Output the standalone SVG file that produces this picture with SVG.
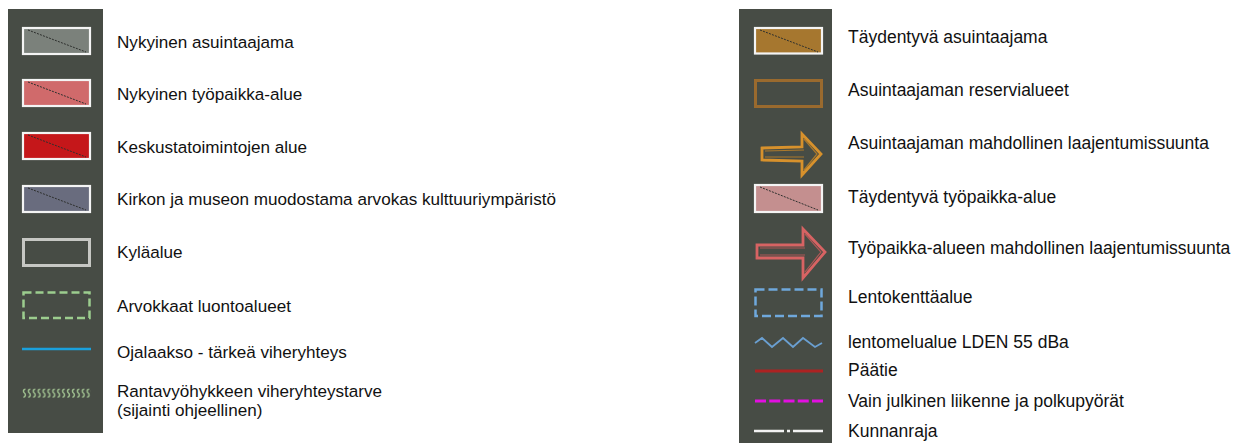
<svg xmlns="http://www.w3.org/2000/svg" width="1238" height="445" viewBox="0 0 1238 445">
<style>
.panel{fill:#474c45}
.lbl{font-family:"Liberation Sans",Arial,sans-serif;font-size:17.1px;fill:#111}
.rl{font-size:17.5px}
.box{stroke:#f4f4f4;stroke-width:2.2}
.diag{stroke:#2e302e;stroke-width:1;stroke-dasharray:2 1.2;fill:none}
</style>
<defs>
<pattern id="sq" x="22" y="388" width="4.9" height="11" patternUnits="userSpaceOnUse">
<path d="M3.4,1.2 C1,1.2 1,4 2.4,5 C3.8,6 3.8,9.2 1.4,9.2" fill="none" stroke="#9fc08f" stroke-width="1.5"/>
</pattern>
</defs>
<rect width="1238" height="445" fill="#ffffff"/>
<rect class="panel" x="8" y="9" width="95" height="424"/>
<rect class="panel" x="739" y="9" width="93" height="434"/>

<g id="nykyinen-asuintaajama">
<rect class="box" x="23" y="28" width="67" height="26" fill="#7b817b"/>
<line class="diag" x1="28" y1="30" x2="86" y2="52"/>
<text class="lbl" x="117" y="48">Nykyinen asuintaajama</text>
</g>
<g id="nykyinen-tyopaikka">
<rect class="box" x="23" y="80" width="67" height="26" fill="#d06a6b"/>
<line class="diag" x1="28" y1="82" x2="86" y2="104"/>
<text class="lbl" x="117" y="100">Nykyinen työpaikka-alue</text>
</g>
<g id="keskusta">
<rect class="box" x="23" y="133" width="67" height="26" fill="#c5171a"/>
<line class="diag" x1="28" y1="135" x2="86" y2="157"/>
<text class="lbl" x="117" y="153">Keskustatoimintojen alue</text>
</g>
<g id="kirkko">
<rect class="box" x="23" y="186" width="67" height="26" fill="#696c7e"/>
<line class="diag" x1="28" y1="188" x2="86" y2="210"/>
<text class="lbl" x="117" y="205">Kirkon ja museon muodostama arvokas kulttuuriympäristö</text>
</g>
<g id="kylaalue">
<rect x="23.5" y="239.5" width="66" height="26" fill="none" stroke="#c6c7c3" stroke-width="3"/>
<text class="lbl" x="117" y="258">Kyläalue</text>
</g>
<g id="luontoalueet">
<rect x="23.5" y="292.5" width="66" height="25.5" fill="none" stroke="#9ccd8e" stroke-width="2.5" stroke-dasharray="8 4"/>
<text class="lbl" x="117" y="312">Arvokkaat luontoalueet</text>
</g>
<g id="ojalaakso">
<line x1="22" y1="349" x2="91" y2="349" stroke="#1aa0dc" stroke-width="2.5"/>
<text class="lbl" x="117" y="358">Ojalaakso - tärkeä viheryhteys</text>
</g>
<g id="rantavyohyke">
<rect x="22" y="388" width="69" height="11" fill="url(#sq)"/>
<text class="lbl" x="117" y="397">Rantavyöhykkeen viheryhteystarve</text>
<text class="lbl" x="117" y="416">(sijainti ohjeellinen)</text>
</g>

<g id="taydentyva-asuintaajama">
<rect class="box" x="755" y="28" width="67" height="25.5" fill="#a6772f"/>
<line class="diag" x1="760" y1="30" x2="818" y2="52"/>
<text class="lbl rl" x="848" y="43">Täydentyvä asuintaajama</text>
</g>
<g id="reservialueet">
<rect x="755.5" y="80.5" width="66" height="26" fill="none" stroke="#9a6a2e" stroke-width="3"/>
<text class="lbl rl" x="848" y="96">Asuintaajaman reservialueet</text>
</g>
<g id="asuin-laajentuminen">
<path d="M762,148 L802,147 L802,134 L821,154 L802,175 L802,161 L762,160 Z" fill="none" stroke="#d7912c" stroke-width="2.8" stroke-linejoin="miter"/>
<path d="M765,151 L804,150 M765,157 L804,157 M804,139 L817,154 L804,170" fill="none" stroke="#c68426" stroke-width="1.2" opacity="0.8"/>
<text class="lbl rl" x="848" y="149">Asuintaajaman mahdollinen laajentumissuunta</text>
</g>
<g id="taydentyva-tyopaikka">
<rect class="box" x="755" y="185" width="67" height="27" fill="#c48f8f"/>
<line class="diag" x1="760" y1="187" x2="818" y2="210"/>
<text class="lbl rl" x="848" y="203">Täydentyvä työpaikka-alue</text>
</g>
<g id="tyopaikka-laajentuminen">
<path d="M757,245 L803,245 L803,229 L825,252 L803,278 L803,258 L757,258 Z" fill="none" stroke="#d76363" stroke-width="2.8"/>
<path d="M760,248 L805,248 M760,255 L805,255 M805,234 L821,252 L805,272" fill="none" stroke="#c85a5a" stroke-width="1.2" opacity="0.8"/>
<text class="lbl rl" x="848" y="254">Työpaikka-alueen mahdollinen laajentumissuunta</text>
</g>
<g id="lentokentta">
<rect x="755.5" y="289.5" width="66" height="26.5" fill="none" stroke="#6fa8dc" stroke-width="2.5" stroke-dasharray="9 4"/>
<text class="lbl rl" x="848" y="303">Lentokenttäalue</text>
</g>
<g id="lentomelu">
<polyline points="755,343 762,338 772,347 783,338 793,347 803,338 815,347 822,343" fill="none" stroke="#6a9fd0" stroke-width="1.8"/>
<text class="lbl rl" x="848" y="348">lentomelualue LDEN 55 dBa</text>
</g>
<g id="paatie">
<line x1="755" y1="371" x2="823" y2="371" stroke="#ad2222" stroke-width="3"/>
<text class="lbl rl" x="848" y="376">Päätie</text>
</g>
<g id="julkinen">
<line x1="755" y1="401" x2="823" y2="401" stroke="#e20fe0" stroke-width="3" stroke-dasharray="11 3.25"/>
<text class="lbl rl" x="848" y="407">Vain julkinen liikenne ja polkupyörät</text>
</g>
<g id="kunnanraja">
<path d="M754,431 H784 M787,431 H790 M793,431 H823" stroke="#f2f2f2" stroke-width="2.6" fill="none"/>
<text class="lbl rl" x="848" y="437">Kunnanraja</text>
</g>
<g id="connectors"/>
</svg>
